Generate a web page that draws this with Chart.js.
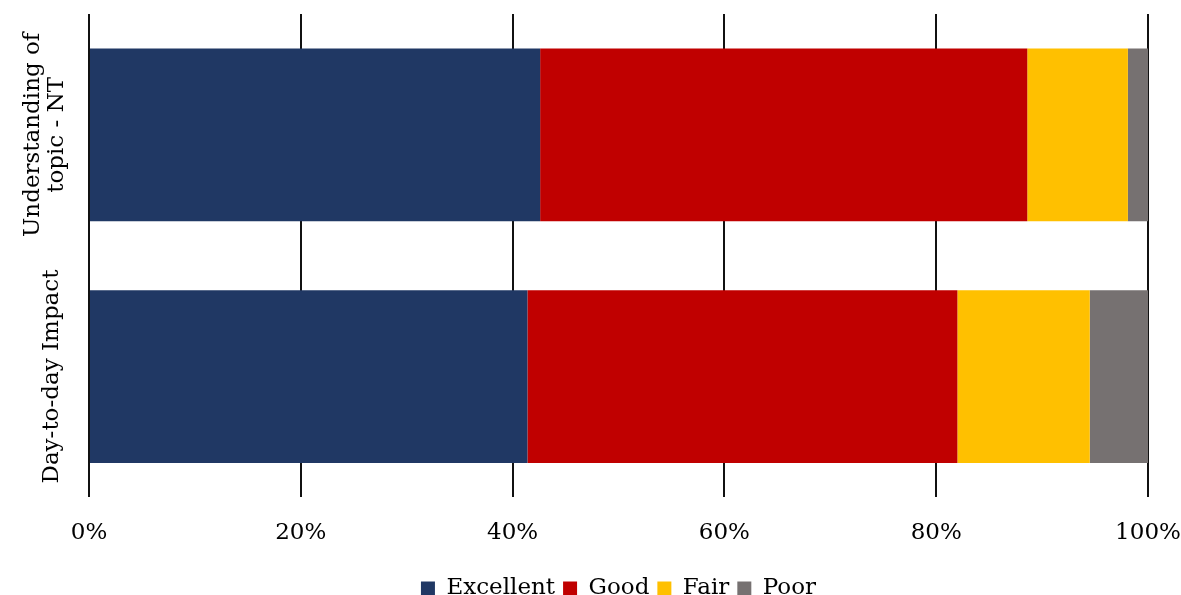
<!DOCTYPE html>
<html>
<head>
<meta charset="utf-8">
<script src="https://cdn.jsdelivr.net/npm/chart.js@4/dist/chart.umd.min.js"></script>
<style>
  html, body { margin: 0; padding: 0; background: #fff; }
  #wrap { width: 1181px; height: 595px; position: relative; }
</style>
</head>
<body>
<div id="wrap"><canvas id="ratingChart"></canvas></div>
<script>
const categories = [["Understanding of", "topic - NT"], ["Day-to-day Impact"]];
const excellent = [42.6, 41.4];
const good = [46.0, 40.6];
const fair = [9.5, 12.5];
const poor = [1.9, 5.5];
const xTicks = [0, 20, 40, 60, 80, 100];

const FONT = "'DejaVu Serif', 'Liberation Serif', serif";

// category names are drawn sideways, one column per line
const sideLabels = {
  id: "sideLabels",
  afterDraw(chart) {
    const c = chart.ctx;
    const y = chart.scales.y;
    c.save();
    c.fillStyle = "#000";
    c.font = "23px " + FONT;
    c.textAlign = "center";
    c.textBaseline = "middle";
    categories.forEach((lines, i) => {
      const cy = y.getPixelForValue(i);
      const lh = 24;
      const x0 = (lines.length > 1 ? 45 : 52) - (lines.length - 1) * lh / 2;
      lines.forEach((txt, j) => {
        c.save();
        c.translate(x0 + j * lh, cy);
        c.rotate(-Math.PI / 2);
        c.fillText(txt, 0, 0);
        c.restore();
      });
    });
    c.restore();
  }
};

new Chart(document.getElementById("ratingChart"), {
  type: "bar",
  data: {
    labels: categories.map(l => l.join(" ")),
    datasets: [
      { label: "Excellent", data: excellent, backgroundColor: "#203864" },
      { label: "Good", data: good, backgroundColor: "#C00000" },
      { label: "Fair", data: fair, backgroundColor: "#FFC000" },
      { label: "Poor", data: poor, backgroundColor: "#767171" }
    ]
  },
  options: {
    indexAxis: "y",
    responsive: true,
    maintainAspectRatio: false,
    animation: false,
    layout: { padding: { left: 89, right: 33, top: 14, bottom: -15 } },
    datasets: { bar: { categoryPercentage: 1, barPercentage: 0.715 } },
    plugins: {
      tooltip: { enabled: false },
      legend: {
        position: "bottom",
        labels: {
          font: { family: FONT, size: 23 },
          color: "#000",
          boxWidth: 14,
          boxHeight: 14,
          padding: 8
        }
      }
    },
    scales: {
      x: {
        stacked: true,
        min: 0,
        max: 100,
        afterBuildTicks: s => { s.ticks = xTicks.map(v => ({ value: v })); },
        // let the end labels hang into the side margins
        afterFit: s => { s.paddingLeft = 0; s.paddingRight = 0; },
        grid: { color: "#111", lineWidth: 2, drawTicks: false },
        border: { display: false },
        ticks: {
          padding: 22,
          color: "#000",
          font: { family: FONT, size: 23 },
          callback: v => v + "%"
        }
      },
      y: {
        stacked: true,
        display: false
      }
    }
  },
  plugins: [sideLabels]
});
</script>
</body>
</html>
